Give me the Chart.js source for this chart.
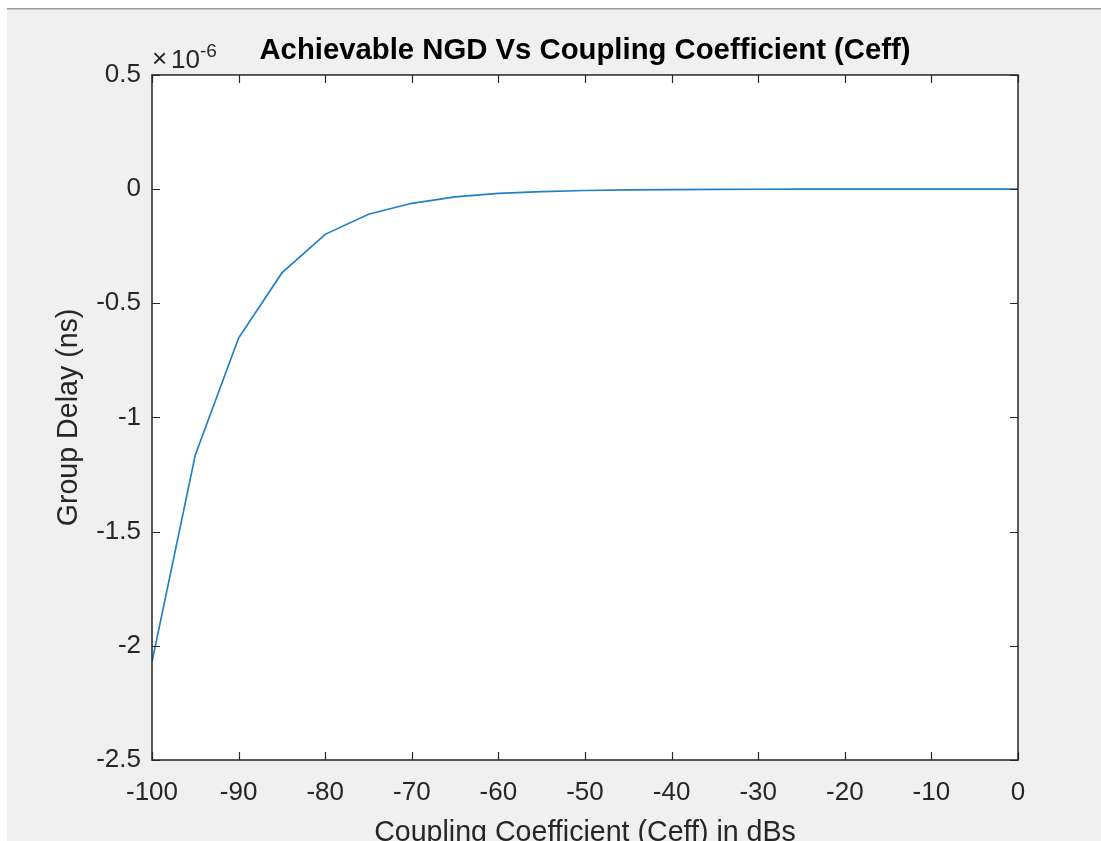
<!DOCTYPE html>
<html>
<head>
<meta charset="utf-8">
<script src="https://cdn.jsdelivr.net/npm/chart.js@4/dist/chart.umd.min.js"></script>
<style>
  html, body { margin: 0; padding: 0; overflow: hidden; background: #ffffff; }
  #wrap { position: absolute; left: 0; top: 0; width: 1101px; height: 880px; }
</style>
</head>
<body>
<div id="wrap"><canvas id="grafico" width="1101" height="880"></canvas></div>
<script>
// datos (retardo en unidades de 1e-6)
const couplingDb = [-100, -95, -90, -85, -80, -75, -70, -65, -60, -55, -50, -45, -40, -35, -30, -25, -20, -15, -10, -5, 0];
const groupDelay = [-2.07, -1.164, -0.652, -0.367, -0.198, -0.110, -0.062, -0.034, -0.019, -0.011, -0.006, -0.003, -0.002, -0.001, -0.0006, -0.0003, -0.0002, -0.0001, 0, 0, 0];
const xTicks = [-100, -90, -80, -70, -60, -50, -40, -30, -20, -10, 0];
const yTicks = [-2.5, -2, -1.5, -1, -0.5, 0, 0.5];

const fuente = "'Liberation Sans', Arial, Helvetica, sans-serif";
const gris = "#262626";

// fondo tipo figura de MATLAB, caja, ticks hacia adentro y exponente
const figuraMatlab = {
  id: "figuraMatlab",
  beforeDraw(chart) {
    const ctx = chart.ctx;
    const a = chart.chartArea;
    ctx.save();
    ctx.fillStyle = "#ffffff";
    ctx.fillRect(0, 0, chart.width, chart.height);
    ctx.fillStyle = "#f0f0f0";
    ctx.fillRect(7, 9, chart.width - 7, chart.height - 9);
    ctx.fillStyle = "#9a9a9a";
    ctx.fillRect(7, 8, chart.width - 7, 1.5);
    ctx.fillStyle = "#ffffff";
    ctx.fillRect(a.left, a.top, a.right - a.left, a.bottom - a.top);
    ctx.restore();
  },
  afterDatasetsDraw(chart) {
    const ctx = chart.ctx;
    const a = chart.chartArea;
    const sx = chart.scales.x;
    const sy = chart.scales.y;
    const largo = 8;
    ctx.save();
    ctx.strokeStyle = gris;
    ctx.lineWidth = 1.2;
    ctx.beginPath();
    sx.ticks.forEach(t => {
      const px = Math.round(sx.getPixelForValue(t.value)) + 0.5;
      ctx.moveTo(px, a.bottom); ctx.lineTo(px, a.bottom - largo);
      ctx.moveTo(px, a.top); ctx.lineTo(px, a.top + largo);
    });
    sy.ticks.forEach(t => {
      const py = Math.round(sy.getPixelForValue(t.value)) + 0.5;
      ctx.moveTo(a.left, py); ctx.lineTo(a.left + largo, py);
      ctx.moveTo(a.right, py); ctx.lineTo(a.right - largo, py);
    });
    ctx.stroke();
    ctx.lineWidth = 1.5;
    ctx.strokeRect(a.left, a.top, a.right - a.left, a.bottom - a.top);

    // etiqueta del exponente
    ctx.fillStyle = gris;
    ctx.textBaseline = "alphabetic";
    ctx.textAlign = "left";
    ctx.font = "26px " + fuente;
    ctx.fillText("\u00d7", a.left, 67);
    ctx.fillText("10", a.left + 19, 68);
    ctx.font = "19px " + fuente;
    ctx.fillText("-6", a.left + 48, 57);
    ctx.restore();
  }
};

new Chart(document.getElementById("grafico"), {
  type: "line",
  data: {
    datasets: [{
      data: couplingDb.map((x, i) => ({ x: x, y: groupDelay[i] })),
      borderColor: "#1f80c8",
      borderWidth: 1.7,
      pointRadius: 0,
      tension: 0,
      fill: false
    }]
  },
  options: {
    responsive: false,
    animation: false,
    devicePixelRatio: 1,
    layout: { padding: { left: 0, top: 0, right: 83, bottom: 0 } },
    plugins: {
      legend: { display: false },
      tooltip: { enabled: false },
      title: {
        display: true,
        text: "Achievable NGD Vs Coupling Coefficient (Ceff)",
        fullSize: false,
        color: "#000000",
        font: { family: fuente, size: 29.3, weight: "bold", lineHeight: 1.2 },
        padding: { top: 33.4, bottom: 6.4 }
      }
    },
    scales: {
      x: {
        type: "linear",
        min: -100,
        max: 0,
        border: { display: false },
        grid: { display: false, drawTicks: false },
        afterBuildTicks: s => { s.ticks = xTicks.map(v => ({ value: v })); },
        afterFit: s => { s.height = 120; },
        ticks: {
          color: gris,
          padding: 17,
          maxRotation: 0,
          autoSkip: false,
          font: { family: fuente, size: 26 },
          callback: v => String(v)
        },
        title: {
          display: true,
          text: "Coupling Coefficient (Ceff) in dBs",
          color: gris,
          font: { family: fuente, size: 28.6, lineHeight: 1.2 },
          padding: { top: 0, bottom: 29.8 }
        }
      },
      y: {
        type: "linear",
        min: -2.5,
        max: 0.5,
        border: { display: false },
        grid: { display: false, drawTicks: false },
        afterBuildTicks: s => { s.ticks = yTicks.map(v => ({ value: v })); },
        afterFit: s => { s.width = 152; },
        ticks: {
          color: gris,
          padding: 11,
          autoSkip: false,
          font: { family: fuente, size: 26 },
          callback: v => String(v)
        },
        title: {
          display: true,
          text: "Group Delay (ns)",
          color: gris,
          font: { family: fuente, size: 28.6, lineHeight: 1.2 },
          padding: { top: 51.8, bottom: 0 }
        }
      }
    }
  },
  plugins: [figuraMatlab]
});
</script>
</body>
</html>
